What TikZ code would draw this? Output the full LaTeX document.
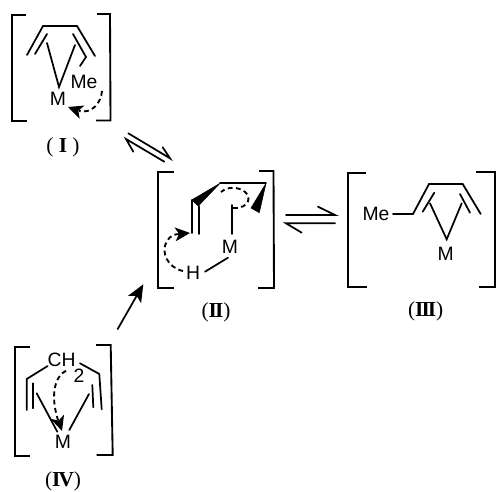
\documentclass[tikz,border=0pt]{standalone}
\usepackage{fontspec}
\setmainfont{Liberation Sans}
\newfontfamily\numfont{Liberation Serif}
\usetikzlibrary{arrows.meta}
\tikzset{
  bond/.style={line width=1.3pt,line join=miter,line cap=round},
  brk/.style={line width=1.4pt,line join=miter},
  dash arc/.style={line width=1.4pt,dash pattern=on 3.6pt off 2.6pt},
  atom/.style={font=\fontsize{14.5}{15}\selectfont,inner sep=0pt},
  lab/.style={font=\numfont\fontsize{16}{17}\selectfont,inner sep=0pt},
  wedge/.style={fill=black,draw=black,line width=.4pt,line join=round}
}
\newcommand{\tip}[3]{\fill[rotate around={#3:(#1,#2)}] (#1,#2) -- ++(-15,7) -- ++(4,-7) -- ++(-4,-7) -- cycle;}
\newcommand{\rmn}[1]{\textbf{#1}}
\newcommand{\kk}{\kern-.09em}
\begin{document}
\begin{tikzpicture}[x=.75pt,y=-.75pt]
\useasboundingbox (0,0) rectangle (496,492);
% I
\draw[brk] (26,15)--(12,15)--(12,121)--(27,121);
\draw[brk] (97,14)--(110,14)--(110.5,120.5)--(96,120.5);
\draw[bond] (27,55)--(43,26)--(77,26)--(95,56);
\draw[bond] (35,54)--(47,34);
\draw[bond] (73,34)--(86,57)--(80,66);
\draw[bond] (47,43)--(59,87)--(75,45);
\node[atom] (m1) at (58,99) {M};
\node[atom] (me1) at (84,82) {Me};
\draw[dash arc] (102,91) .. controls (101,103) and (92,114) .. (79,111);
\tip{68}{107}{160}
\node[lab] (l1) at (63,147) {( \rmn{I} )};
% I-II equilibrium
\draw[bond] (128.3,133.3)--(170,158.3)--(162.7,147.3);
\draw[bond] (164.3,161.7)--(126,139)--(133.3,151.7);
% II
\draw[brk] (174,172)--(158,172)--(158,288)--(174,288);
\draw[brk] (259,171)--(273.5,171)--(274,288)--(258,288);
\fill[wedge] (220,183.3)--(191.7,200)--(198.3,206)--cycle;
\draw[bond] (220,183.3)--(266,183.3);
\fill[wedge] (266,183.3)--(251,208)--(259.3,212.7)--cycle;
\draw[bond] (191.7,200)--(191.7,233);
\draw[bond] (199,206)--(199,234);
\draw[bond] (231.7,205)--(231.7,234);
\node[atom] (m2) at (230,246.7) {M};
\node[atom] (h2) at (193,272.5) {H};
\draw[bond] (205,271.7)--(228,257.7);
\draw[dash arc] (233,208) .. controls (250,209) and (253,195) .. (242,190) .. controls (234,186) and (225,188) .. (221,192);
\draw[dash arc] (183,271) .. controls (168,268) and (160,252) .. (167,241) .. controls (170,236) and (174,234) .. (180,234);
\tip{190}{233}{5}
\node[lab] (l2) at (216,312) {(\rmn{I\kk I})};
% II-III equilibrium
\draw[bond] (318,206.7)--(335,215)--(286,215);
\draw[bond] (335,223.3)--(286,223.3)--(301.7,232.7);
% III
\draw[brk] (366,172.7)--(348,172.7)--(348,287)--(366.7,287);
\draw[brk] (476,172)--(495,172)--(495,286.7)--(479,286.7);
\node[atom] (me3) at (376,214) {Me};
\draw[bond] (393,214)--(413,214)--(429,184)--(462.7,184)--(480.7,214);
\draw[bond] (422.7,211.7)--(434.3,192.7);
\draw[bond] (460,194)--(470,212.7);
\draw[bond] (430,203.3)--(446.7,239.3)--(461.7,203.3);
\node[atom] (m3) at (445.7,254) {M};
\node[lab] (l3) at (425.7,311) {(\rmn{I\kk I\kk I})};
% IV
\draw[brk] (30,347.3)--(14.7,347.3)--(14.7,455.7)--(30,455.7);
\draw[brk] (96,345)--(110.7,345)--(112.7,455)--(96.7,455);
\node[atom] (ch) at (61.7,360) {CH};
\node[atom] (two) at (79,376) {2};
\draw[bond] (47.7,366)--(26.7,379)--(26.7,410);
\draw[bond] (80,363.3)--(99.3,374)--(101.7,409.3);
\draw[bond] (32.7,383.3)--(32.7,408.3);
\draw[bond] (92.3,385)--(93.3,407.3);
\draw[bond] (36.7,393.3)--(57.3,431.7);
\draw[bond] (89,394)--(69.3,430);
\node[atom] (m4) at (63,441.7) {M};
\draw[dash arc] (66,370.7) .. controls (55,376) and (50,395) .. (58,420);
\tip{62}{431}{-72}
\node[lab] (l4) at (63,481) {(\rmn{I\kk V})};
% IV to II
\coordinate (a) at (117.7,329);
\coordinate (b) at (143.3,284.3);
\draw[bond,-{Stealth[length=13pt,width=11pt,inset=3pt]}] (a)--(b);
\end{tikzpicture}
\end{document}
